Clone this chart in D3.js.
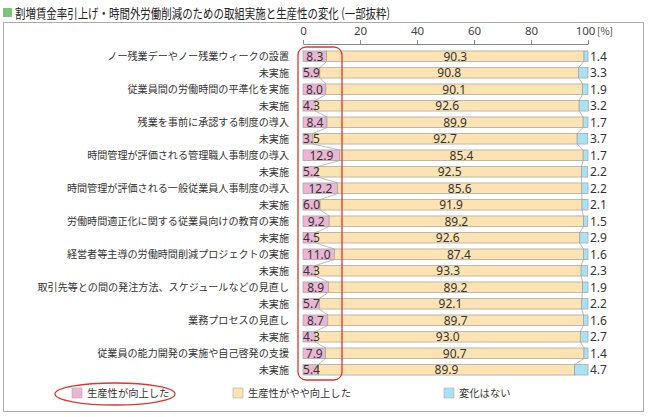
<!DOCTYPE html>
<html><head><meta charset="utf-8">
<script src="https://cdn.jsdelivr.net/npm/d3@7"></script>
<style>body{margin:0;background:#fff;}svg{display:block;font-family:"Noto Sans CJK JP","Noto Sans",sans-serif;}</style>
</head><body><svg id="c" width="650" height="417"></svg>
<script>
const categories = [
 "ノー残業デーやノー残業ウィークの設置","未実施",
 "従業員間の労働時間の平準化を実施","未実施",
 "残業を事前に承認する制度の導入","未実施",
 "時間管理が評価される管理職人事制度の導入","未実施",
 "時間管理が評価される一般従業員人事制度の導入","未実施",
 "労働時間適正化に関する従業員向けの教育の実施","未実施",
 "経営者等主導の労働時間削減プロジェクトの実施","未実施",
 "取引先等との間の発注方法、スケジュールなどの見直し","未実施",
 "業務プロセスの見直し","未実施",
 "従業員の能力開発の実施や自己啓発の支援","未実施"];
const improved = [8.3,5.9,8.0,4.3,8.4,3.5,12.9,5.2,12.2,6.0,9.2,4.5,11.0,4.3,8.9,5.7,8.7,4.3,7.9,5.4];
const slightly = [90.3,90.8,90.1,92.6,89.9,92.7,85.4,92.5,85.6,91.9,89.2,92.6,87.4,93.3,89.2,92.1,89.7,93.0,90.7,89.9];
const noChange = [1.4,3.3,1.9,3.2,1.7,3.7,1.7,2.2,2.2,2.1,1.5,2.9,1.6,2.3,1.9,2.2,1.6,2.7,1.4,4.7];
const seriesNames = ["生産性が向上した","生産性がやや向上した","変化はない"];
const tickValues = [0,20,40,60,80,100];
const title = "割増賃金率引上げ・時間外労働削減のための取組実施と生産性の変化 (一部抜粋)";

const colors = ["#ebb5d3","#fde3b1","#aae2f5"];
const svg = d3.select("#c");
const x = d3.scaleLinear().domain([0,100]).range([303,588]);
const y = d3.scaleBand().domain(d3.range(categories.length)).range([48,378]).paddingInner(0.36).paddingOuter(0.18);

// title
svg.append("rect").attr("x",3).attr("y",8).attr("width",9).attr("height",9).attr("fill","#7cc576");
svg.append("text").attr("x",15).attr("y",17.5).attr("font-size",13).attr("fill","#222")
  .attr("textLength",375).attr("lengthAdjust","spacingAndGlyphs").text(title);
// frame
svg.append("rect").attr("x",3.5).attr("y",22.5).attr("width",640).attr("height",389).attr("fill","none").attr("stroke","#aaa");

// axis
const ax = svg.append("g").attr("transform","translate(0,44)")
  .call(d3.axisTop(x).tickValues(tickValues).tickSize(4).tickSizeOuter(0).tickPadding(5).tickFormat(d=>d));
ax.select(".domain").attr("stroke","#888");
ax.selectAll(".tick line").attr("stroke","#888");
ax.selectAll(".tick text").attr("font-size",11.5).attr("fill","#444").attr("font-family","Noto Sans, sans-serif");
ax.selectAll(".tick text").filter(d=>d===100).attr("dx",-3);
svg.append("text").attr("x",597).attr("y",35).attr("font-size",10).attr("fill","#444").text("[%]");

const rows = categories.map((c,i)=>{
  const v=[improved[i],slightly[i],noChange[i]];
  let acc=0; const segs=v.map((d,k)=>{const s={k,v:d,x0:acc,x1:acc+d};acc+=d;return s;});
  return {c,i,segs};
});

// connector lines
const bh = y.bandwidth();
for(let i=0;i<rows.length-1;i++){
  [0,1].forEach(k=>{
    svg.append("line")
      .attr("x1",x(rows[i].segs[k].x1)).attr("y1",y(i)+bh)
      .attr("x2",x(rows[i+1].segs[k].x1)).attr("y2",y(i+1))
      .attr("stroke","#a8a8a8").attr("stroke-width",0.8);
  });
}

const g = svg.append("g");
rows.forEach(r=>{
  r.segs.forEach(s=>{
    g.append("rect").attr("x",x(s.x0)).attr("y",y(r.i)).attr("width",x(s.x1)-x(s.x0)).attr("height",bh)
      .attr("fill",colors[s.k]).attr("stroke","#a0a0a0").attr("stroke-width",0.7);
  });
  const cy = y(r.i)+bh/2+4.3;
  const p = r.segs[0];
  g.append("text").attr("x",Math.max((x(p.x0)+x(p.x1))/2, x(0)+8.5)).attr("y",cy).attr("text-anchor","middle")
    .attr("font-size",12).attr("fill","#333").attr("font-family","Noto Sans, sans-serif").text(p.v.toFixed(1));
  const o = r.segs[1];
  g.append("text").attr("x",(x(o.x0)+x(o.x1))/2).attr("y",cy).attr("text-anchor","middle")
    .attr("font-size",12).attr("fill","#333").attr("font-family","Noto Sans, sans-serif").text(o.v.toFixed(1));
  g.append("text").attr("x",x(100)+2).attr("y",cy)
    .attr("font-size",12).attr("fill","#333").attr("font-family","Noto Sans, sans-serif").text(r.segs[2].v.toFixed(1));
  g.append("text").attr("x",289).attr("y",y(r.i)+bh/2+3.8).attr("text-anchor","end")
    .attr("font-size",10.1).attr("fill","#333").text(r.c);
});

// red highlight
svg.append("rect").attr("x",298).attr("y",47).attr("width",44).attr("height",333).attr("rx",8)
  .attr("fill","none").attr("stroke","#e0352d").attr("stroke-width",1.3);

// legend
const lx=[72,233,444];
seriesNames.forEach((n,k)=>{
  svg.append("rect").attr("x",lx[k]).attr("y",388).attr("width",10).attr("height",10).attr("fill",colors[k]).attr("stroke","#aaa").attr("stroke-width",0.6);
  svg.append("text").attr("x",lx[k]+15).attr("y",397).attr("font-size",10.3).attr("fill","#333").text(n);
});
svg.append("ellipse").attr("cx",115).attr("cy",394).attr("rx",60).attr("ry",11)
  .attr("fill","none").attr("stroke","#e0352d").attr("stroke-width",1.3);
</script></body></html>
